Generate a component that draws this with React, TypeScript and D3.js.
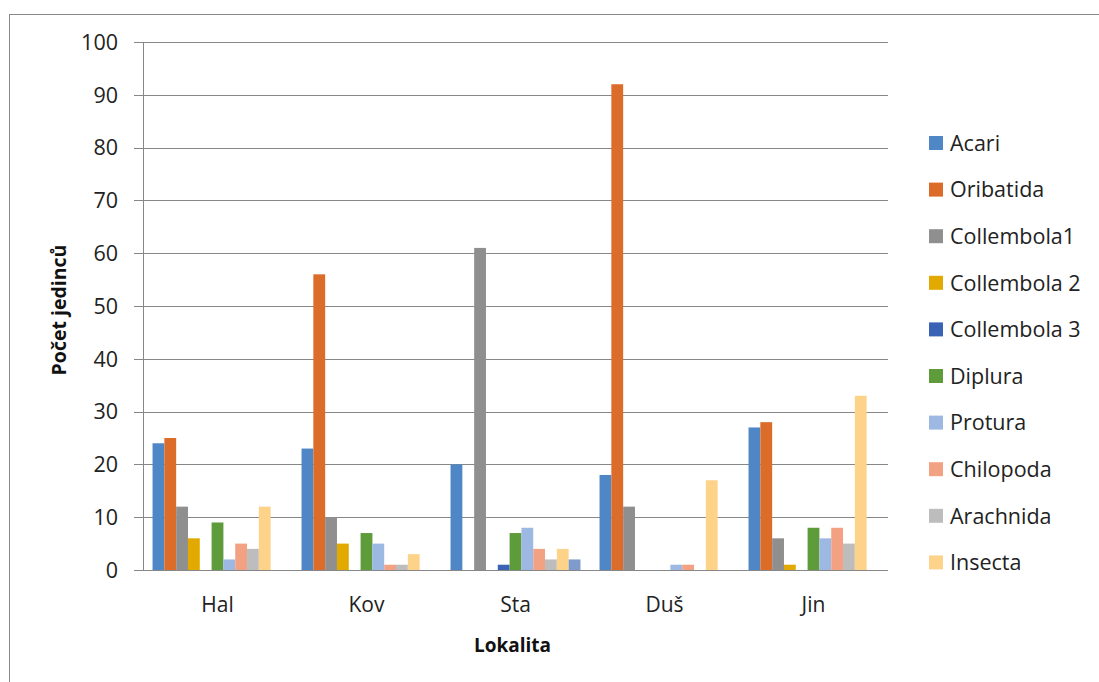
import React, { useEffect, useRef } from 'react';
import * as d3 from 'd3';

const localities = ['Hal', 'Kov', 'Sta', 'Duš', 'Jin'];
const seriesNames = ['Acari', 'Oribatida', 'Collembola1', 'Collembola 2', 'Collembola 3', 'Diplura', 'Protura', 'Chilopoda', 'Arachnida', 'Insecta', ''];
const seriesColors = ['#4f86c6', '#dc6c29', '#8f8f8f', '#e2aa00', '#3b63b5', '#5e9b3b', '#9db9e3', '#f2a283', '#bdbdbd', '#fdd38a', '#7e9bcb'];

// one array per locality, in seriesNames order
const hal = [24, 25, 12, 6, 0, 9, 2, 5, 4, 12, 0];
const kov = [23, 56, 10, 5, 0, 7, 5, 1, 1, 3, 0];
const sta = [20, 0, 61, 0, 1, 7, 8, 4, 2, 4, 2];
const dus = [18, 92, 12, 0, 0, 0, 1, 1, 0, 17, 0];
const jin = [27, 28, 6, 1, 0, 8, 6, 8, 5, 33, 0];
const yTicks = [0, 10, 20, 30, 40, 50, 60, 70, 80, 90, 100];

const W = 1099;
const H = 682;
const font = "'Open Sans', sans-serif";

export default function App() {
  const ref = useRef<SVGSVGElement>(null);

  useEffect(() => {
    const svg = d3.select(ref.current);
    svg.selectAll('*').remove();

    const values = [hal, kov, sta, dus, jin];
    const left = 143, right = 888, top = 42, bottom = 570;

    // chart frame
    svg.append('rect')
      .attr('x', 9.5).attr('y', 14.5)
      .attr('width', W + 20).attr('height', H + 20)
      .attr('fill', 'white').attr('stroke', '#8a8a8a');

    const x0 = d3.scaleBand()
      .domain(localities)
      .range([left, right])
      .paddingInner(0.128)
      .paddingOuter(0.064);
    const x1 = d3.scaleBand()
      .domain(seriesNames.map((_, i) => String(i)))
      .range([0, x0.bandwidth()]);
    const y = d3.scaleLinear().domain([0, 100]).range([bottom, top]);

    // gridlines
    svg.append('g')
      .selectAll('line')
      .data(yTicks.filter(t => t > 0))
      .join('line')
      .attr('x1', left - 9).attr('x2', right)
      .attr('y1', d => Math.round(y(d)) + 0.5).attr('y2', d => Math.round(y(d)) + 0.5)
      .attr('stroke', '#878787');

    // bars
    localities.forEach((loc, li) => {
      svg.append('g')
        .selectAll('rect')
        .data(values[li])
        .join('rect')
        .attr('x', (_, i) => (x0(loc) as number) + (x1(String(i)) as number))
        .attr('y', d => y(d))
        .attr('width', x1.bandwidth())
        .attr('height', d => bottom - y(d))
        .attr('fill', (_, i) => seriesColors[i]);
    });

    // axes lines
    svg.append('line')
      .attr('x1', left + 0.5).attr('x2', left + 0.5)
      .attr('y1', top).attr('y2', bottom)
      .attr('stroke', '#878787');
    svg.append('line')
      .attr('x1', left - 9).attr('x2', right)
      .attr('y1', bottom + 0.5).attr('y2', bottom + 0.5)
      .attr('stroke', '#878787');

    // y tick labels
    svg.append('g')
      .selectAll('text')
      .data(yTicks)
      .join('text')
      .attr('x', 118)
      .attr('y', d => y(d))
      .attr('dy', '0.36em')
      .attr('text-anchor', 'end')
      .attr('font-family', font)
      .attr('font-size', 21.5)
      .attr('fill', '#222')
      .text(d => d);

    // category labels
    svg.append('g')
      .selectAll('text')
      .data(localities)
      .join('text')
      .attr('x', d => (x0(d) as number) + x0.bandwidth() / 2)
      .attr('y', 612)
      .attr('text-anchor', 'middle')
      .attr('font-family', font)
      .attr('font-size', 21)
      .attr('fill', '#222')
      .text(d => d);

    // axis titles
    svg.append('text')
      .attr('x', (left + right) / 2 - 3).attr('y', 652)
      .attr('text-anchor', 'middle')
      .attr('font-family', font).attr('font-size', 19).attr('font-weight', 'bold')
      .attr('fill', '#111')
      .text('Lokalita');
    svg.append('text')
      .attr('transform', `translate(66, ${(top + bottom) / 2 + 4}) rotate(-90)`)
      .attr('text-anchor', 'middle')
      .attr('font-family', font).attr('font-size', 19.5).attr('font-weight', 'bold')
      .attr('fill', '#111')
      .text('Počet jedinců');

    // legend
    const legend = svg.append('g')
      .selectAll('g')
      .data(seriesNames.slice(0, 10))
      .join('g')
      .attr('transform', (_, i) => `translate(929, ${143 + i * 46.6})`);
    legend.append('rect')
      .attr('x', 0).attr('y', -7)
      .attr('width', 14).attr('height', 14)
      .attr('fill', (_, i) => seriesColors[i]);
    legend.append('text')
      .attr('x', 21).attr('y', 0)
      .attr('dy', '0.36em')
      .attr('font-family', font).attr('font-size', 21.5)
      .attr('fill', '#222')
      .text(d => d);
  }, []);

  return (
    <div style={{ position: 'absolute', left: 0, top: 0 }}>
      <svg ref={ref} width={W} height={H} style={{ display: 'block', background: 'white' }} />
    </div>
  );
}
